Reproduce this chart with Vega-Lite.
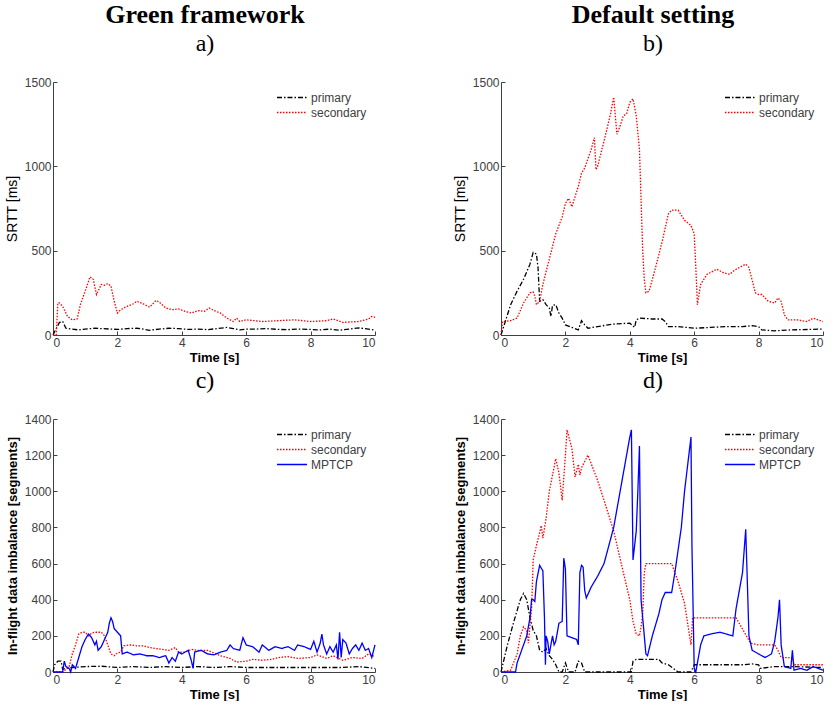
{
  "$schema": "https://vega.github.io/schema/vega-lite/v6.json",
  "background": "white",
  "padding": {"left": 5, "top": 2, "right": 0, "bottom": 0},
  "config": {
    "view": {"stroke": null},
    "font": "Liberation Sans",
    "axis": {
      "grid": false,
      "domainColor": "#404040",
      "tickColor": "#404040",
      "tickSize": -4,
      "labelFont": "Liberation Sans",
      "labelFontSize": 12,
      "labelColor": "#404040",
      "labelPadding": 6,
      "titleFont": "Liberation Sans",
      "titleFontSize": 13,
      "titleColor": "#000000",
      "titleFontWeight": "bold",
      "format": "d"
    },
    "axisY": {"titlePadding": 5},
    "axisX": {"titlePadding": 3},
    "legend": {
      "orient": "top-right",
      "offset": 8,
      "padding": 0,
      "symbolType": "stroke",
      "symbolSize": 900,
      "symbolStrokeWidth": 1.3,
      "clipHeight": 15,
      "rowPadding": 0,
      "labelOffset": 3,
      "labelFont": "Liberation Sans",
      "labelFontSize": 12,
      "labelColor": "#404040"
    },
    "title": {
      "font": "Liberation Serif",
      "fontSize": 26,
      "fontWeight": "bold",
      "color": "#000000",
      "subtitleFont": "Liberation Serif",
      "subtitleFontSize": 24,
      "subtitleColor": "#000000",
      "subtitlePadding": 4,
      "offset": 20,
      "dx": -9
    }
  },
  "datasets": {
    "a": [
      {"s":"primary","t":0,"v":0},{"s":"primary","t":0.05,"v":20},{"s":"primary","t":0.2,"v":75},{"s":"primary","t":0.3,"v":80},{"s":"primary","t":0.4,"v":40},{"s":"primary","t":0.6,"v":35},{"s":"primary","t":0.8,"v":30},{"s":"primary","t":1.0,"v":35},{"s":"primary","t":1.3,"v":40},{"s":"primary","t":1.5,"v":38},{"s":"primary","t":1.8,"v":35},{"s":"primary","t":2.0,"v":33},{"s":"primary","t":2.3,"v":38},{"s":"primary","t":2.6,"v":40},{"s":"primary","t":2.8,"v":35},{"s":"primary","t":3.0,"v":28},{"s":"primary","t":3.3,"v":35},{"s":"primary","t":3.6,"v":40},{"s":"primary","t":3.9,"v":38},{"s":"primary","t":4.2,"v":33},{"s":"primary","t":4.5,"v":35},{"s":"primary","t":4.8,"v":32},{"s":"primary","t":5.1,"v":38},{"s":"primary","t":5.4,"v":45},{"s":"primary","t":5.6,"v":38},{"s":"primary","t":5.8,"v":30},{"s":"primary","t":6.0,"v":35},{"s":"primary","t":6.3,"v":35},{"s":"primary","t":6.6,"v":38},{"s":"primary","t":7.0,"v":33},{"s":"primary","t":7.3,"v":32},{"s":"primary","t":7.6,"v":35},{"s":"primary","t":8.0,"v":33},{"s":"primary","t":8.3,"v":30},{"s":"primary","t":8.6,"v":35},{"s":"primary","t":8.9,"v":28},{"s":"primary","t":9.2,"v":35},{"s":"primary","t":9.5,"v":42},{"s":"primary","t":9.8,"v":35},{"s":"primary","t":10,"v":28},
      {"s":"secondary","t":0,"v":0},{"s":"secondary","t":0.1,"v":0},{"s":"secondary","t":0.15,"v":190},{"s":"secondary","t":0.2,"v":190},{"s":"secondary","t":0.3,"v":170},{"s":"secondary","t":0.45,"v":110},{"s":"secondary","t":0.6,"v":90},{"s":"secondary","t":0.75,"v":95},{"s":"secondary","t":0.85,"v":180},{"s":"secondary","t":1.0,"v":260},{"s":"secondary","t":1.15,"v":345},{"s":"secondary","t":1.25,"v":330},{"s":"secondary","t":1.35,"v":240},{"s":"secondary","t":1.5,"v":300},{"s":"secondary","t":1.6,"v":295},{"s":"secondary","t":1.7,"v":305},{"s":"secondary","t":1.8,"v":290},{"s":"secondary","t":1.9,"v":200},{"s":"secondary","t":2.0,"v":130},{"s":"secondary","t":2.1,"v":150},{"s":"secondary","t":2.3,"v":170},{"s":"secondary","t":2.5,"v":185},{"s":"secondary","t":2.6,"v":200},{"s":"secondary","t":2.8,"v":185},{"s":"secondary","t":3.0,"v":165},{"s":"secondary","t":3.2,"v":205},{"s":"secondary","t":3.3,"v":195},{"s":"secondary","t":3.5,"v":160},{"s":"secondary","t":3.7,"v":150},{"s":"secondary","t":3.9,"v":155},{"s":"secondary","t":4.1,"v":140},{"s":"secondary","t":4.3,"v":130},{"s":"secondary","t":4.5,"v":145},{"s":"secondary","t":4.7,"v":140},{"s":"secondary","t":4.85,"v":160},{"s":"secondary","t":5.0,"v":145},{"s":"secondary","t":5.2,"v":130},{"s":"secondary","t":5.4,"v":100},{"s":"secondary","t":5.6,"v":80},{"s":"secondary","t":5.7,"v":100},{"s":"secondary","t":5.8,"v":80},{"s":"secondary","t":6.0,"v":90},{"s":"secondary","t":6.5,"v":80},{"s":"secondary","t":7.0,"v":85},{"s":"secondary","t":7.5,"v":90},{"s":"secondary","t":8.0,"v":80},{"s":"secondary","t":8.5,"v":85},{"s":"secondary","t":8.7,"v":95},{"s":"secondary","t":9.0,"v":75},{"s":"secondary","t":9.5,"v":80},{"s":"secondary","t":9.8,"v":95},{"s":"secondary","t":9.9,"v":110},{"s":"secondary","t":10,"v":105}
    ],
    "b": [
      {"s":"primary","t":0,"v":0},{"s":"primary","t":0.3,"v":180},{"s":"primary","t":0.5,"v":260},{"s":"primary","t":0.7,"v":330},{"s":"primary","t":0.9,"v":420},{"s":"primary","t":1.0,"v":490},{"s":"primary","t":1.1,"v":480},{"s":"primary","t":1.15,"v":400},{"s":"primary","t":1.2,"v":200},{"s":"primary","t":1.3,"v":210},{"s":"primary","t":1.4,"v":180},{"s":"primary","t":1.5,"v":160},{"s":"primary","t":1.55,"v":110},{"s":"primary","t":1.6,"v":175},{"s":"primary","t":1.7,"v":180},{"s":"primary","t":1.8,"v":130},{"s":"primary","t":1.9,"v":100},{"s":"primary","t":2.0,"v":60},{"s":"primary","t":2.2,"v":45},{"s":"primary","t":2.4,"v":30},{"s":"primary","t":2.5,"v":85},{"s":"primary","t":2.6,"v":60},{"s":"primary","t":2.7,"v":40},{"s":"primary","t":3.0,"v":50},{"s":"primary","t":3.5,"v":65},{"s":"primary","t":4.0,"v":70},{"s":"primary","t":4.15,"v":45},{"s":"primary","t":4.2,"v":90},{"s":"primary","t":4.3,"v":100},{"s":"primary","t":4.7,"v":95},{"s":"primary","t":5.0,"v":95},{"s":"primary","t":5.1,"v":80},{"s":"primary","t":5.2,"v":50},{"s":"primary","t":5.5,"v":50},{"s":"primary","t":6.0,"v":40},{"s":"primary","t":6.5,"v":45},{"s":"primary","t":7.0,"v":50},{"s":"primary","t":7.5,"v":50},{"s":"primary","t":7.8,"v":55},{"s":"primary","t":8.0,"v":50},{"s":"primary","t":8.1,"v":30},{"s":"primary","t":8.5,"v":25},{"s":"primary","t":9.0,"v":30},{"s":"primary","t":10,"v":35},
      {"s":"secondary","t":0,"v":0},{"s":"secondary","t":0.05,"v":80},{"s":"secondary","t":0.3,"v":85},{"s":"secondary","t":0.5,"v":100},{"s":"secondary","t":0.7,"v":190},{"s":"secondary","t":0.9,"v":250},{"s":"secondary","t":1.0,"v":255},{"s":"secondary","t":1.05,"v":230},{"s":"secondary","t":1.1,"v":180},{"s":"secondary","t":1.2,"v":200},{"s":"secondary","t":1.3,"v":300},{"s":"secondary","t":1.5,"v":450},{"s":"secondary","t":1.7,"v":600},{"s":"secondary","t":1.9,"v":700},{"s":"secondary","t":2.0,"v":780},{"s":"secondary","t":2.1,"v":810},{"s":"secondary","t":2.2,"v":760},{"s":"secondary","t":2.3,"v":820},{"s":"secondary","t":2.4,"v":880},{"s":"secondary","t":2.5,"v":960},{"s":"secondary","t":2.6,"v":990},{"s":"secondary","t":2.8,"v":1100},{"s":"secondary","t":2.9,"v":1170},{"s":"secondary","t":2.95,"v":980},{"s":"secondary","t":3.0,"v":1000},{"s":"secondary","t":3.2,"v":1150},{"s":"secondary","t":3.4,"v":1310},{"s":"secondary","t":3.5,"v":1410},{"s":"secondary","t":3.6,"v":1190},{"s":"secondary","t":3.7,"v":1240},{"s":"secondary","t":3.8,"v":1300},{"s":"secondary","t":3.9,"v":1310},{"s":"secondary","t":4.0,"v":1380},{"s":"secondary","t":4.1,"v":1400},{"s":"secondary","t":4.2,"v":1300},{"s":"secondary","t":4.3,"v":1100},{"s":"secondary","t":4.35,"v":800},{"s":"secondary","t":4.4,"v":500},{"s":"secondary","t":4.45,"v":330},{"s":"secondary","t":4.5,"v":250},{"s":"secondary","t":4.6,"v":260},{"s":"secondary","t":4.8,"v":400},{"s":"secondary","t":5.0,"v":550},{"s":"secondary","t":5.2,"v":720},{"s":"secondary","t":5.3,"v":740},{"s":"secondary","t":5.5,"v":740},{"s":"secondary","t":5.7,"v":680},{"s":"secondary","t":5.9,"v":650},{"s":"secondary","t":6.0,"v":600},{"s":"secondary","t":6.05,"v":400},{"s":"secondary","t":6.1,"v":180},{"s":"secondary","t":6.2,"v":300},{"s":"secondary","t":6.4,"v":360},{"s":"secondary","t":6.7,"v":390},{"s":"secondary","t":6.9,"v":370},{"s":"secondary","t":7.1,"v":360},{"s":"secondary","t":7.3,"v":390},{"s":"secondary","t":7.6,"v":420},{"s":"secondary","t":7.7,"v":400},{"s":"secondary","t":7.9,"v":250},{"s":"secondary","t":8.0,"v":240},{"s":"secondary","t":8.1,"v":240},{"s":"secondary","t":8.3,"v":200},{"s":"secondary","t":8.5,"v":190},{"s":"secondary","t":8.6,"v":220},{"s":"secondary","t":8.7,"v":200},{"s":"secondary","t":8.8,"v":120},{"s":"secondary","t":8.9,"v":90},{"s":"secondary","t":9.2,"v":90},{"s":"secondary","t":9.5,"v":80},{"s":"secondary","t":9.7,"v":100},{"s":"secondary","t":10,"v":80}
    ],
    "c": [
      {"s":"primary","t":0,"v":0},{"s":"primary","t":0.05,"v":40},{"s":"primary","t":0.15,"v":60},{"s":"primary","t":0.25,"v":60},{"s":"primary","t":0.3,"v":15},{"s":"primary","t":0.4,"v":20},{"s":"primary","t":0.6,"v":25},{"s":"primary","t":1.0,"v":30},{"s":"primary","t":1.5,"v":32},{"s":"primary","t":2.0,"v":25},{"s":"primary","t":2.5,"v":30},{"s":"primary","t":3.0,"v":25},{"s":"primary","t":3.5,"v":30},{"s":"primary","t":4.0,"v":25},{"s":"primary","t":4.5,"v":30},{"s":"primary","t":5.0,"v":25},{"s":"primary","t":5.5,"v":30},{"s":"primary","t":6.0,"v":25},{"s":"primary","t":7.0,"v":25},{"s":"primary","t":8.0,"v":25},{"s":"primary","t":9.0,"v":25},{"s":"primary","t":9.5,"v":30},{"s":"primary","t":10,"v":20},
      {"s":"secondary","t":0,"v":0},{"s":"secondary","t":0.3,"v":0},{"s":"secondary","t":0.5,"v":30},{"s":"secondary","t":0.6,"v":100},{"s":"secondary","t":0.7,"v":150},{"s":"secondary","t":0.8,"v":210},{"s":"secondary","t":0.9,"v":220},{"s":"secondary","t":1.0,"v":220},{"s":"secondary","t":1.1,"v":200},{"s":"secondary","t":1.2,"v":215},{"s":"secondary","t":1.3,"v":220},{"s":"secondary","t":1.5,"v":220},{"s":"secondary","t":1.6,"v":200},{"s":"secondary","t":1.7,"v":150},{"s":"secondary","t":1.8,"v":100},{"s":"secondary","t":1.9,"v":90},{"s":"secondary","t":2.0,"v":105},{"s":"secondary","t":2.1,"v":110},{"s":"secondary","t":2.2,"v":145},{"s":"secondary","t":2.4,"v":150},{"s":"secondary","t":2.6,"v":145},{"s":"secondary","t":2.8,"v":145},{"s":"secondary","t":3.0,"v":135},{"s":"secondary","t":3.2,"v":130},{"s":"secondary","t":3.4,"v":125},{"s":"secondary","t":3.6,"v":120},{"s":"secondary","t":3.8,"v":135},{"s":"secondary","t":3.9,"v":110},{"s":"secondary","t":4.1,"v":110},{"s":"secondary","t":4.3,"v":125},{"s":"secondary","t":4.5,"v":120},{"s":"secondary","t":4.8,"v":120},{"s":"secondary","t":5.0,"v":105},{"s":"secondary","t":5.2,"v":90},{"s":"secondary","t":5.5,"v":75},{"s":"secondary","t":5.7,"v":55},{"s":"secondary","t":6.0,"v":60},{"s":"secondary","t":6.2,"v":70},{"s":"secondary","t":6.5,"v":65},{"s":"secondary","t":6.8,"v":70},{"s":"secondary","t":7.0,"v":80},{"s":"secondary","t":7.3,"v":85},{"s":"secondary","t":7.6,"v":75},{"s":"secondary","t":8.0,"v":80},{"s":"secondary","t":8.2,"v":95},{"s":"secondary","t":8.5,"v":75},{"s":"secondary","t":8.7,"v":90},{"s":"secondary","t":9.0,"v":65},{"s":"secondary","t":9.3,"v":80},{"s":"secondary","t":9.6,"v":75},{"s":"secondary","t":9.8,"v":100},{"s":"secondary","t":10,"v":85},
      {"s":"MPTCP","t":0,"v":0},{"s":"MPTCP","t":0.3,"v":0},{"s":"MPTCP","t":0.35,"v":60},{"s":"MPTCP","t":0.4,"v":30},{"s":"MPTCP","t":0.5,"v":20},{"s":"MPTCP","t":0.55,"v":0},{"s":"MPTCP","t":0.6,"v":40},{"s":"MPTCP","t":0.7,"v":20},{"s":"MPTCP","t":0.8,"v":80},{"s":"MPTCP","t":0.9,"v":140},{"s":"MPTCP","t":1.0,"v":180},{"s":"MPTCP","t":1.1,"v":210},{"s":"MPTCP","t":1.2,"v":190},{"s":"MPTCP","t":1.3,"v":150},{"s":"MPTCP","t":1.35,"v":170},{"s":"MPTCP","t":1.4,"v":120},{"s":"MPTCP","t":1.5,"v":140},{"s":"MPTCP","t":1.6,"v":180},{"s":"MPTCP","t":1.7,"v":220},{"s":"MPTCP","t":1.75,"v":270},{"s":"MPTCP","t":1.8,"v":300},{"s":"MPTCP","t":1.85,"v":280},{"s":"MPTCP","t":1.9,"v":240},{"s":"MPTCP","t":2.0,"v":220},{"s":"MPTCP","t":2.1,"v":200},{"s":"MPTCP","t":2.15,"v":100},{"s":"MPTCP","t":2.3,"v":110},{"s":"MPTCP","t":2.5,"v":95},{"s":"MPTCP","t":2.7,"v":100},{"s":"MPTCP","t":2.9,"v":90},{"s":"MPTCP","t":3.1,"v":90},{"s":"MPTCP","t":3.3,"v":80},{"s":"MPTCP","t":3.5,"v":90},{"s":"MPTCP","t":3.6,"v":50},{"s":"MPTCP","t":3.7,"v":80},{"s":"MPTCP","t":3.8,"v":60},{"s":"MPTCP","t":3.9,"v":110},{"s":"MPTCP","t":4.0,"v":100},{"s":"MPTCP","t":4.2,"v":120},{"s":"MPTCP","t":4.3,"v":60},{"s":"MPTCP","t":4.35,"v":20},{"s":"MPTCP","t":4.4,"v":110},{"s":"MPTCP","t":4.6,"v":120},{"s":"MPTCP","t":4.8,"v":100},{"s":"MPTCP","t":5.0,"v":95},{"s":"MPTCP","t":5.2,"v":110},{"s":"MPTCP","t":5.4,"v":120},{"s":"MPTCP","t":5.5,"v":150},{"s":"MPTCP","t":5.6,"v":130},{"s":"MPTCP","t":5.8,"v":120},{"s":"MPTCP","t":5.9,"v":190},{"s":"MPTCP","t":6.0,"v":150},{"s":"MPTCP","t":6.2,"v":140},{"s":"MPTCP","t":6.4,"v":110},{"s":"MPTCP","t":6.5,"v":150},{"s":"MPTCP","t":6.7,"v":120},{"s":"MPTCP","t":6.9,"v":140},{"s":"MPTCP","t":7.1,"v":130},{"s":"MPTCP","t":7.3,"v":140},{"s":"MPTCP","t":7.5,"v":120},{"s":"MPTCP","t":7.6,"v":150},{"s":"MPTCP","t":7.8,"v":140},{"s":"MPTCP","t":8.0,"v":125},{"s":"MPTCP","t":8.1,"v":170},{"s":"MPTCP","t":8.2,"v":110},{"s":"MPTCP","t":8.3,"v":160},{"s":"MPTCP","t":8.35,"v":210},{"s":"MPTCP","t":8.4,"v":150},{"s":"MPTCP","t":8.5,"v":100},{"s":"MPTCP","t":8.6,"v":140},{"s":"MPTCP","t":8.7,"v":110},{"s":"MPTCP","t":8.8,"v":150},{"s":"MPTCP","t":8.85,"v":70},{"s":"MPTCP","t":8.9,"v":220},{"s":"MPTCP","t":8.95,"v":80},{"s":"MPTCP","t":9.0,"v":180},{"s":"MPTCP","t":9.1,"v":160},{"s":"MPTCP","t":9.2,"v":100},{"s":"MPTCP","t":9.3,"v":130},{"s":"MPTCP","t":9.4,"v":150},{"s":"MPTCP","t":9.5,"v":120},{"s":"MPTCP","t":9.6,"v":160},{"s":"MPTCP","t":9.7,"v":120},{"s":"MPTCP","t":9.8,"v":130},{"s":"MPTCP","t":9.9,"v":80},{"s":"MPTCP","t":10,"v":150}
    ],
    "d": [
      {"s":"primary","t":0,"v":0},{"s":"primary","t":0.2,"v":150},{"s":"primary","t":0.4,"v":280},{"s":"primary","t":0.6,"v":400},{"s":"primary","t":0.7,"v":435},{"s":"primary","t":0.8,"v":400},{"s":"primary","t":0.9,"v":300},{"s":"primary","t":1.0,"v":230},{"s":"primary","t":1.1,"v":200},{"s":"primary","t":1.2,"v":120},{"s":"primary","t":1.3,"v":110},{"s":"primary","t":1.4,"v":130},{"s":"primary","t":1.5,"v":90},{"s":"primary","t":1.6,"v":70},{"s":"primary","t":1.7,"v":40},{"s":"primary","t":1.8,"v":0},{"s":"primary","t":1.9,"v":0},{"s":"primary","t":2.0,"v":50},{"s":"primary","t":2.1,"v":0},{"s":"primary","t":2.3,"v":0},{"s":"primary","t":2.4,"v":60},{"s":"primary","t":2.5,"v":50},{"s":"primary","t":2.6,"v":0},{"s":"primary","t":3.0,"v":0},{"s":"primary","t":3.5,"v":0},{"s":"primary","t":4.05,"v":0},{"s":"primary","t":4.1,"v":60},{"s":"primary","t":4.2,"v":70},{"s":"primary","t":4.5,"v":70},{"s":"primary","t":4.9,"v":70},{"s":"primary","t":5.0,"v":50},{"s":"primary","t":5.2,"v":40},{"s":"primary","t":5.5,"v":0},{"s":"primary","t":5.9,"v":0},{"s":"primary","t":6.0,"v":40},{"s":"primary","t":6.5,"v":40},{"s":"primary","t":7.0,"v":40},{"s":"primary","t":7.5,"v":40},{"s":"primary","t":7.8,"v":45},{"s":"primary","t":8.0,"v":40},{"s":"primary","t":8.05,"v":20},{"s":"primary","t":8.5,"v":30},{"s":"primary","t":9.0,"v":30},{"s":"primary","t":10,"v":25},
      {"s":"secondary","t":0,"v":0},{"s":"secondary","t":0.3,"v":10},{"s":"secondary","t":0.5,"v":100},{"s":"secondary","t":0.6,"v":200},{"s":"secondary","t":0.7,"v":250},{"s":"secondary","t":0.8,"v":230},{"s":"secondary","t":0.85,"v":160},{"s":"secondary","t":0.95,"v":350},{"s":"secondary","t":1.0,"v":620},{"s":"secondary","t":1.1,"v":700},{"s":"secondary","t":1.2,"v":770},{"s":"secondary","t":1.25,"v":810},{"s":"secondary","t":1.3,"v":740},{"s":"secondary","t":1.4,"v":850},{"s":"secondary","t":1.5,"v":1000},{"s":"secondary","t":1.7,"v":1180},{"s":"secondary","t":1.8,"v":1100},{"s":"secondary","t":1.9,"v":950},{"s":"secondary","t":2.0,"v":1200},{"s":"secondary","t":2.05,"v":1340},{"s":"secondary","t":2.2,"v":1240},{"s":"secondary","t":2.3,"v":1080},{"s":"secondary","t":2.4,"v":1150},{"s":"secondary","t":2.45,"v":1090},{"s":"secondary","t":2.5,"v":1130},{"s":"secondary","t":2.7,"v":1200},{"s":"secondary","t":3.0,"v":1060},{"s":"secondary","t":3.2,"v":950},{"s":"secondary","t":3.5,"v":780},{"s":"secondary","t":3.8,"v":550},{"s":"secondary","t":4.0,"v":400},{"s":"secondary","t":4.1,"v":280},{"s":"secondary","t":4.2,"v":210},{"s":"secondary","t":4.3,"v":200},{"s":"secondary","t":4.35,"v":250},{"s":"secondary","t":4.4,"v":320},{"s":"secondary","t":4.45,"v":550},{"s":"secondary","t":4.5,"v":600},{"s":"secondary","t":5.0,"v":600},{"s":"secondary","t":5.3,"v":600},{"s":"secondary","t":5.5,"v":500},{"s":"secondary","t":5.7,"v":380},{"s":"secondary","t":5.9,"v":150},{"s":"secondary","t":5.95,"v":300},{"s":"secondary","t":7.3,"v":300},{"s":"secondary","t":7.75,"v":160},{"s":"secondary","t":8.0,"v":150},{"s":"secondary","t":8.5,"v":150},{"s":"secondary","t":8.6,"v":120},{"s":"secondary","t":8.7,"v":80},{"s":"secondary","t":9.05,"v":80},{"s":"secondary","t":9.1,"v":40},{"s":"secondary","t":10,"v":40},
      {"s":"MPTCP","t":0,"v":0},{"s":"MPTCP","t":0.45,"v":0},{"s":"MPTCP","t":0.5,"v":50},{"s":"MPTCP","t":0.7,"v":150},{"s":"MPTCP","t":0.8,"v":200},{"s":"MPTCP","t":0.9,"v":300},{"s":"MPTCP","t":0.95,"v":400},{"s":"MPTCP","t":1.0,"v":400},{"s":"MPTCP","t":1.05,"v":390},{"s":"MPTCP","t":1.1,"v":500},{"s":"MPTCP","t":1.2,"v":590},{"s":"MPTCP","t":1.3,"v":560},{"s":"MPTCP","t":1.35,"v":300},{"s":"MPTCP","t":1.38,"v":40},{"s":"MPTCP","t":1.4,"v":200},{"s":"MPTCP","t":1.45,"v":170},{"s":"MPTCP","t":1.5,"v":100},{"s":"MPTCP","t":1.6,"v":200},{"s":"MPTCP","t":1.65,"v":150},{"s":"MPTCP","t":1.7,"v":170},{"s":"MPTCP","t":1.8,"v":270},{"s":"MPTCP","t":1.9,"v":280},{"s":"MPTCP","t":1.95,"v":630},{"s":"MPTCP","t":2.0,"v":570},{"s":"MPTCP","t":2.05,"v":200},{"s":"MPTCP","t":2.2,"v":190},{"s":"MPTCP","t":2.35,"v":180},{"s":"MPTCP","t":2.4,"v":150},{"s":"MPTCP","t":2.45,"v":550},{"s":"MPTCP","t":2.5,"v":590},{"s":"MPTCP","t":2.55,"v":580},{"s":"MPTCP","t":2.6,"v":450},{"s":"MPTCP","t":2.65,"v":410},{"s":"MPTCP","t":2.8,"v":470},{"s":"MPTCP","t":3.0,"v":530},{"s":"MPTCP","t":3.2,"v":600},{"s":"MPTCP","t":3.5,"v":800},{"s":"MPTCP","t":3.8,"v":1100},{"s":"MPTCP","t":4.0,"v":1300},{"s":"MPTCP","t":4.05,"v":1340},{"s":"MPTCP","t":4.1,"v":620},{"s":"MPTCP","t":4.15,"v":700},{"s":"MPTCP","t":4.2,"v":780},{"s":"MPTCP","t":4.25,"v":1000},{"s":"MPTCP","t":4.3,"v":1250},{"s":"MPTCP","t":4.35,"v":400},{"s":"MPTCP","t":4.4,"v":300},{"s":"MPTCP","t":4.5,"v":100},{"s":"MPTCP","t":4.55,"v":90},{"s":"MPTCP","t":4.7,"v":200},{"s":"MPTCP","t":4.9,"v":320},{"s":"MPTCP","t":5.0,"v":400},{"s":"MPTCP","t":5.1,"v":440},{"s":"MPTCP","t":5.3,"v":440},{"s":"MPTCP","t":5.4,"v":550},{"s":"MPTCP","t":5.6,"v":800},{"s":"MPTCP","t":5.7,"v":1000},{"s":"MPTCP","t":5.9,"v":1300},{"s":"MPTCP","t":5.93,"v":700},{"s":"MPTCP","t":6.0,"v":20},{"s":"MPTCP","t":6.05,"v":0},{"s":"MPTCP","t":6.1,"v":50},{"s":"MPTCP","t":6.2,"v":150},{"s":"MPTCP","t":6.3,"v":200},{"s":"MPTCP","t":6.5,"v":210},{"s":"MPTCP","t":6.8,"v":220},{"s":"MPTCP","t":7.0,"v":210},{"s":"MPTCP","t":7.2,"v":200},{"s":"MPTCP","t":7.3,"v":350},{"s":"MPTCP","t":7.5,"v":550},{"s":"MPTCP","t":7.6,"v":790},{"s":"MPTCP","t":7.65,"v":500},{"s":"MPTCP","t":7.7,"v":200},{"s":"MPTCP","t":7.8,"v":120},{"s":"MPTCP","t":8.0,"v":100},{"s":"MPTCP","t":8.2,"v":80},{"s":"MPTCP","t":8.4,"v":100},{"s":"MPTCP","t":8.5,"v":170},{"s":"MPTCP","t":8.6,"v":300},{"s":"MPTCP","t":8.65,"v":400},{"s":"MPTCP","t":8.7,"v":150},{"s":"MPTCP","t":8.8,"v":30},{"s":"MPTCP","t":9.0,"v":20},{"s":"MPTCP","t":9.05,"v":120},{"s":"MPTCP","t":9.1,"v":10},{"s":"MPTCP","t":9.3,"v":20},{"s":"MPTCP","t":9.5,"v":10},{"s":"MPTCP","t":9.7,"v":30},{"s":"MPTCP","t":10,"v":10}
    ]
  },
  "columns": 2,
  "spacing": {"row": 5, "column": 75},
  "resolve": {
    "scale": {"color": "independent", "strokeDash": "independent"},
    "legend": {"color": "independent", "strokeDash": "independent"}
  },
  "concat": [
    {
      "width": 322, "height": 253,
      "title": {"text": "Green framework", "subtitle": "a)"},
      "data": {"name": "a"},
      "mark": {"type": "line", "strokeWidth": 1.3},
      "encoding": {
        "x": {"field": "t", "type": "quantitative", "scale": {"domain": [0, 10], "nice": false}, "axis": {"title": "Time [s]", "values": [0, 2, 4, 6, 8, 10]}},
        "y": {"field": "v", "type": "quantitative", "scale": {"domain": [0, 1500], "nice": false}, "axis": {"title": "SRTT [ms]", "values": [0, 500, 1000, 1500], "titleFontWeight": "normal", "titleFontSize": 14}},
        "color": {"field": "s", "type": "nominal", "scale": {"domain": ["primary", "secondary"], "range": ["#000000", "#ff0000"]}, "legend": {"title": null}},
        "strokeDash": {"field": "s", "type": "nominal", "scale": {"domain": ["primary", "secondary"], "range": [[5, 2, 1.5, 2], [1.5, 1.5]]}, "legend": {"title": null}}
      }
    },
    {
      "width": 322, "height": 253,
      "title": {"text": "Default setting", "subtitle": "b)"},
      "data": {"name": "b"},
      "mark": {"type": "line", "strokeWidth": 1.3},
      "encoding": {
        "x": {"field": "t", "type": "quantitative", "scale": {"domain": [0, 10], "nice": false}, "axis": {"title": "Time [s]", "values": [0, 2, 4, 6, 8, 10]}},
        "y": {"field": "v", "type": "quantitative", "scale": {"domain": [0, 1500], "nice": false}, "axis": {"title": "SRTT [ms]", "values": [0, 500, 1000, 1500], "titleFontWeight": "normal", "titleFontSize": 14}},
        "color": {"field": "s", "type": "nominal", "scale": {"domain": ["primary", "secondary"], "range": ["#000000", "#ff0000"]}, "legend": {"title": null}},
        "strokeDash": {"field": "s", "type": "nominal", "scale": {"domain": ["primary", "secondary"], "range": [[5, 2, 1.5, 2], [1.5, 1.5]]}, "legend": {"title": null}}
      }
    },
    {
      "width": 322, "height": 253,
      "title": {"text": "c)", "fontWeight": "normal", "fontSize": 24},
      "data": {"name": "c"},
      "mark": {"type": "line", "strokeWidth": 1.3},
      "encoding": {
        "x": {"field": "t", "type": "quantitative", "scale": {"domain": [0, 10], "nice": false}, "axis": {"title": "Time [s]", "values": [0, 2, 4, 6, 8, 10]}},
        "y": {"field": "v", "type": "quantitative", "scale": {"domain": [0, 1400], "nice": false}, "axis": {"title": "In-flight data imbalance [segments]", "values": [0, 200, 400, 600, 800, 1000, 1200, 1400]}},
        "color": {"field": "s", "type": "nominal", "scale": {"domain": ["primary", "secondary", "MPTCP"], "range": ["#000000", "#ff0000", "#0000ff"]}, "legend": {"title": null}},
        "strokeDash": {"field": "s", "type": "nominal", "scale": {"domain": ["primary", "secondary", "MPTCP"], "range": [[5, 2, 1.5, 2], [1.5, 1.5], [1, 0]]}, "legend": {"title": null}}
      }
    },
    {
      "width": 322, "height": 253,
      "title": {"text": "d)", "fontWeight": "normal", "fontSize": 24},
      "data": {"name": "d"},
      "mark": {"type": "line", "strokeWidth": 1.3},
      "encoding": {
        "x": {"field": "t", "type": "quantitative", "scale": {"domain": [0, 10], "nice": false}, "axis": {"title": "Time [s]", "values": [0, 2, 4, 6, 8, 10]}},
        "y": {"field": "v", "type": "quantitative", "scale": {"domain": [0, 1400], "nice": false}, "axis": {"title": "In-flight data imbalance [segments]", "values": [0, 200, 400, 600, 800, 1000, 1200, 1400]}},
        "color": {"field": "s", "type": "nominal", "scale": {"domain": ["primary", "secondary", "MPTCP"], "range": ["#000000", "#ff0000", "#0000ff"]}, "legend": {"title": null}},
        "strokeDash": {"field": "s", "type": "nominal", "scale": {"domain": ["primary", "secondary", "MPTCP"], "range": [[5, 2, 1.5, 2], [1.5, 1.5], [1, 0]]}, "legend": {"title": null}}
      }
    }
  ]
}
